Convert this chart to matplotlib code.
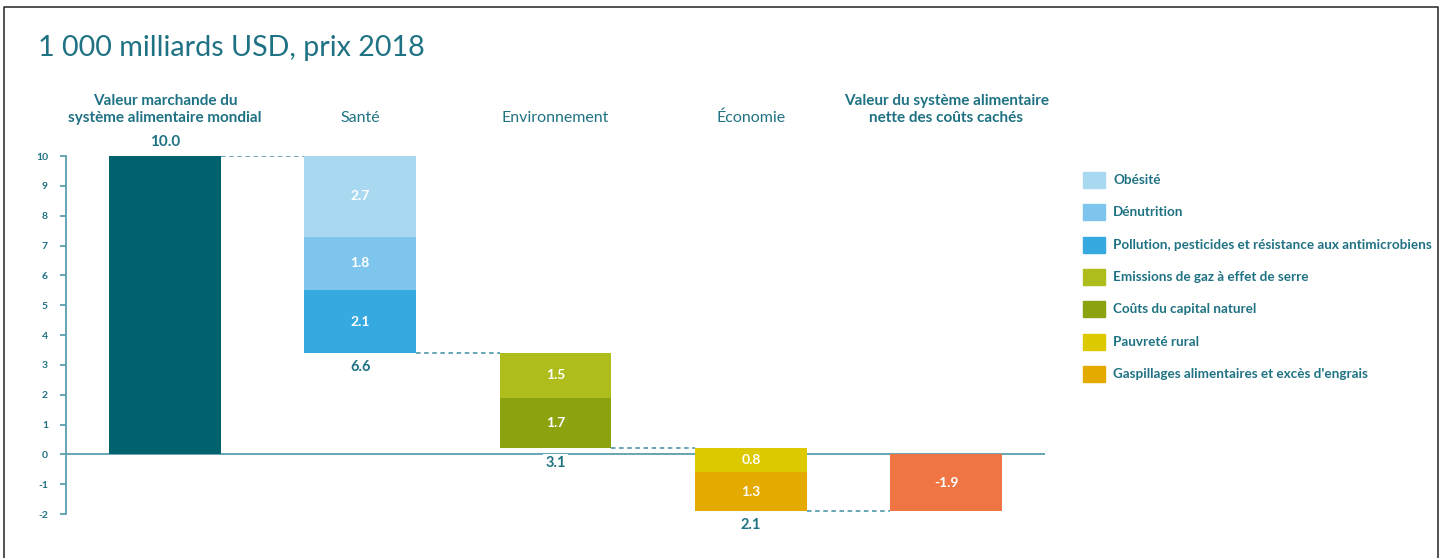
from matplotlib import pyplot as plt
from matplotlib.patches import Rectangle
from matplotlib.lines import Line2D

plt.rcParams['font.family'] = ['Lato', 'DejaVu Sans']
plt.rcParams['axes.unicode_minus'] = False

# données (1 000 milliards USD)
headers = ["Valeur marchande du\nsystème alimentaire mondial", "Santé", "Environnement",
           "Économie", "Valeur du système alimentaire\nnette des coûts cachés"]
header_bold = [True, False, False, False, True]
market_value = 10.0
group_values = [[2.7, 1.8, 2.1], [1.5, 1.7], [0.8, 1.3]]
group_totals = [6.6, 3.1, 2.1]
net_value = -1.9
legend_labels = ["Obésité", "Dénutrition", "Pollution, pesticides et résistance aux antimicrobiens",
                 "Emissions de gaz à effet de serre", "Coûts du capital naturel",
                 "Pauvreté rural", "Gaspillages alimentaires et excès d'engrais"]
colors = [["#a9d9f1", "#7dc5ec", "#36a9e0"], ["#aebd1b", "#8ca20f"], ["#dcc900", "#e4aa00"]]
market_color = "#00616f"
net_color = "#ef7644"
teal = "#1f7283"
axis_col = "#5a9fb0"

fig = plt.figure(figsize=(14.42, 5.58), dpi=100)
ax = fig.add_axes([66/1442, 1-514/558, (1045-66)/1442, (514-156)/558])
w = 0.57

# barre de départ
ax.bar(0, market_value, width=w, color=market_color, zorder=3)
ax.text(0, market_value + 0.22, "%.1f" % market_value, ha='center', va='bottom',
        color=teal, fontsize=11, fontweight='bold')

level = market_value
for i, vals in enumerate(group_values):
    x = i + 1
    # ligne pointillée depuis la barre précédente
    ax.plot([x - 1 + w/2, x - w/2], [level, level], color=axis_col, lw=1.3,
            linestyle=(0, (2.5, 2)), zorder=2)
    for v, c in zip(vals, colors[i]):
        ax.bar(x, v, bottom=level - v, width=w, color=c, zorder=3)
        ax.text(x, level - v/2, "%.1f" % v, ha='center', va='center', color='white',
                fontsize=10, fontweight='bold', zorder=4)
        level -= v
    ax.text(x, level - 0.25, "%.1f" % group_totals[i], ha='center', va='top', color=teal,
            fontsize=10.5, fontweight='bold', zorder=4,
            bbox=dict(facecolor='white', edgecolor='none', pad=1.5))

ax.plot([3 + w/2, 4 - w/2], [level, level], color=axis_col, lw=1.3,
        linestyle=(0, (2.5, 2)), zorder=2)
ax.bar(4, net_value, width=w, color=net_color, zorder=3)
ax.text(4, net_value/2, "%.1f" % net_value, ha='center', va='center', color='white',
        fontsize=10, fontweight='bold', zorder=4)

ax.axhline(0, color=axis_col, lw=1.3, zorder=1)

# en-têtes
for i, h in enumerate(headers):
    ax.text(i, 11.55 if '\n' in h else 11.29, h, ha='center', va='center', color=teal,
            fontsize=11 if header_bold[i] else 11.5,
            fontweight='bold' if header_bold[i] else 'normal',
            linespacing=1.25)

ax.set_xlim(-0.506, 4.506)
ax.set_ylim(-2, 10)
ax.set_yticks(range(-2, 11))
ax.set_xticks([])
for s in ['top', 'right', 'bottom']:
    ax.spines[s].set_visible(False)
ax.spines['left'].set_color(axis_col)
ax.spines['left'].set_linewidth(1.3)
ax.tick_params(axis='y', colors=axis_col, length=4, width=1.3, pad=9, labelsize=7.5)
for t in ax.get_yticklabels():
    t.set_color(teal)
    t.set_fontweight('bold')

# titre
fig.text(38/1442, 1-48/558, "1 000 milliards USD, prix 2018", ha='left', va='center',
         color=teal, fontsize=20.6)

# légende
flat_colors = [c for grp in colors for c in grp]
for k, (lab, c) in enumerate(zip(legend_labels, flat_colors)):
    yc = 180 + k * 32.3
    fig.add_artist(Rectangle((1083/1442, 1-(yc+8)/558), 22/1442, 16/558,
                             transform=fig.transFigure, color=c))
    fig.text(1113/1442, 1-yc/558, lab, ha='left', va='center', color=teal,
             fontsize=9.7, fontweight='bold')

# cadre
fig.add_artist(Line2D([4/1442, 4/1442, 1438/1442, 1438/1442], [0, 1-7/558, 1-7/558, 0],
                      transform=fig.transFigure, color='#333333', lw=1.2))

plt.savefig("out.png", dpi=100)
